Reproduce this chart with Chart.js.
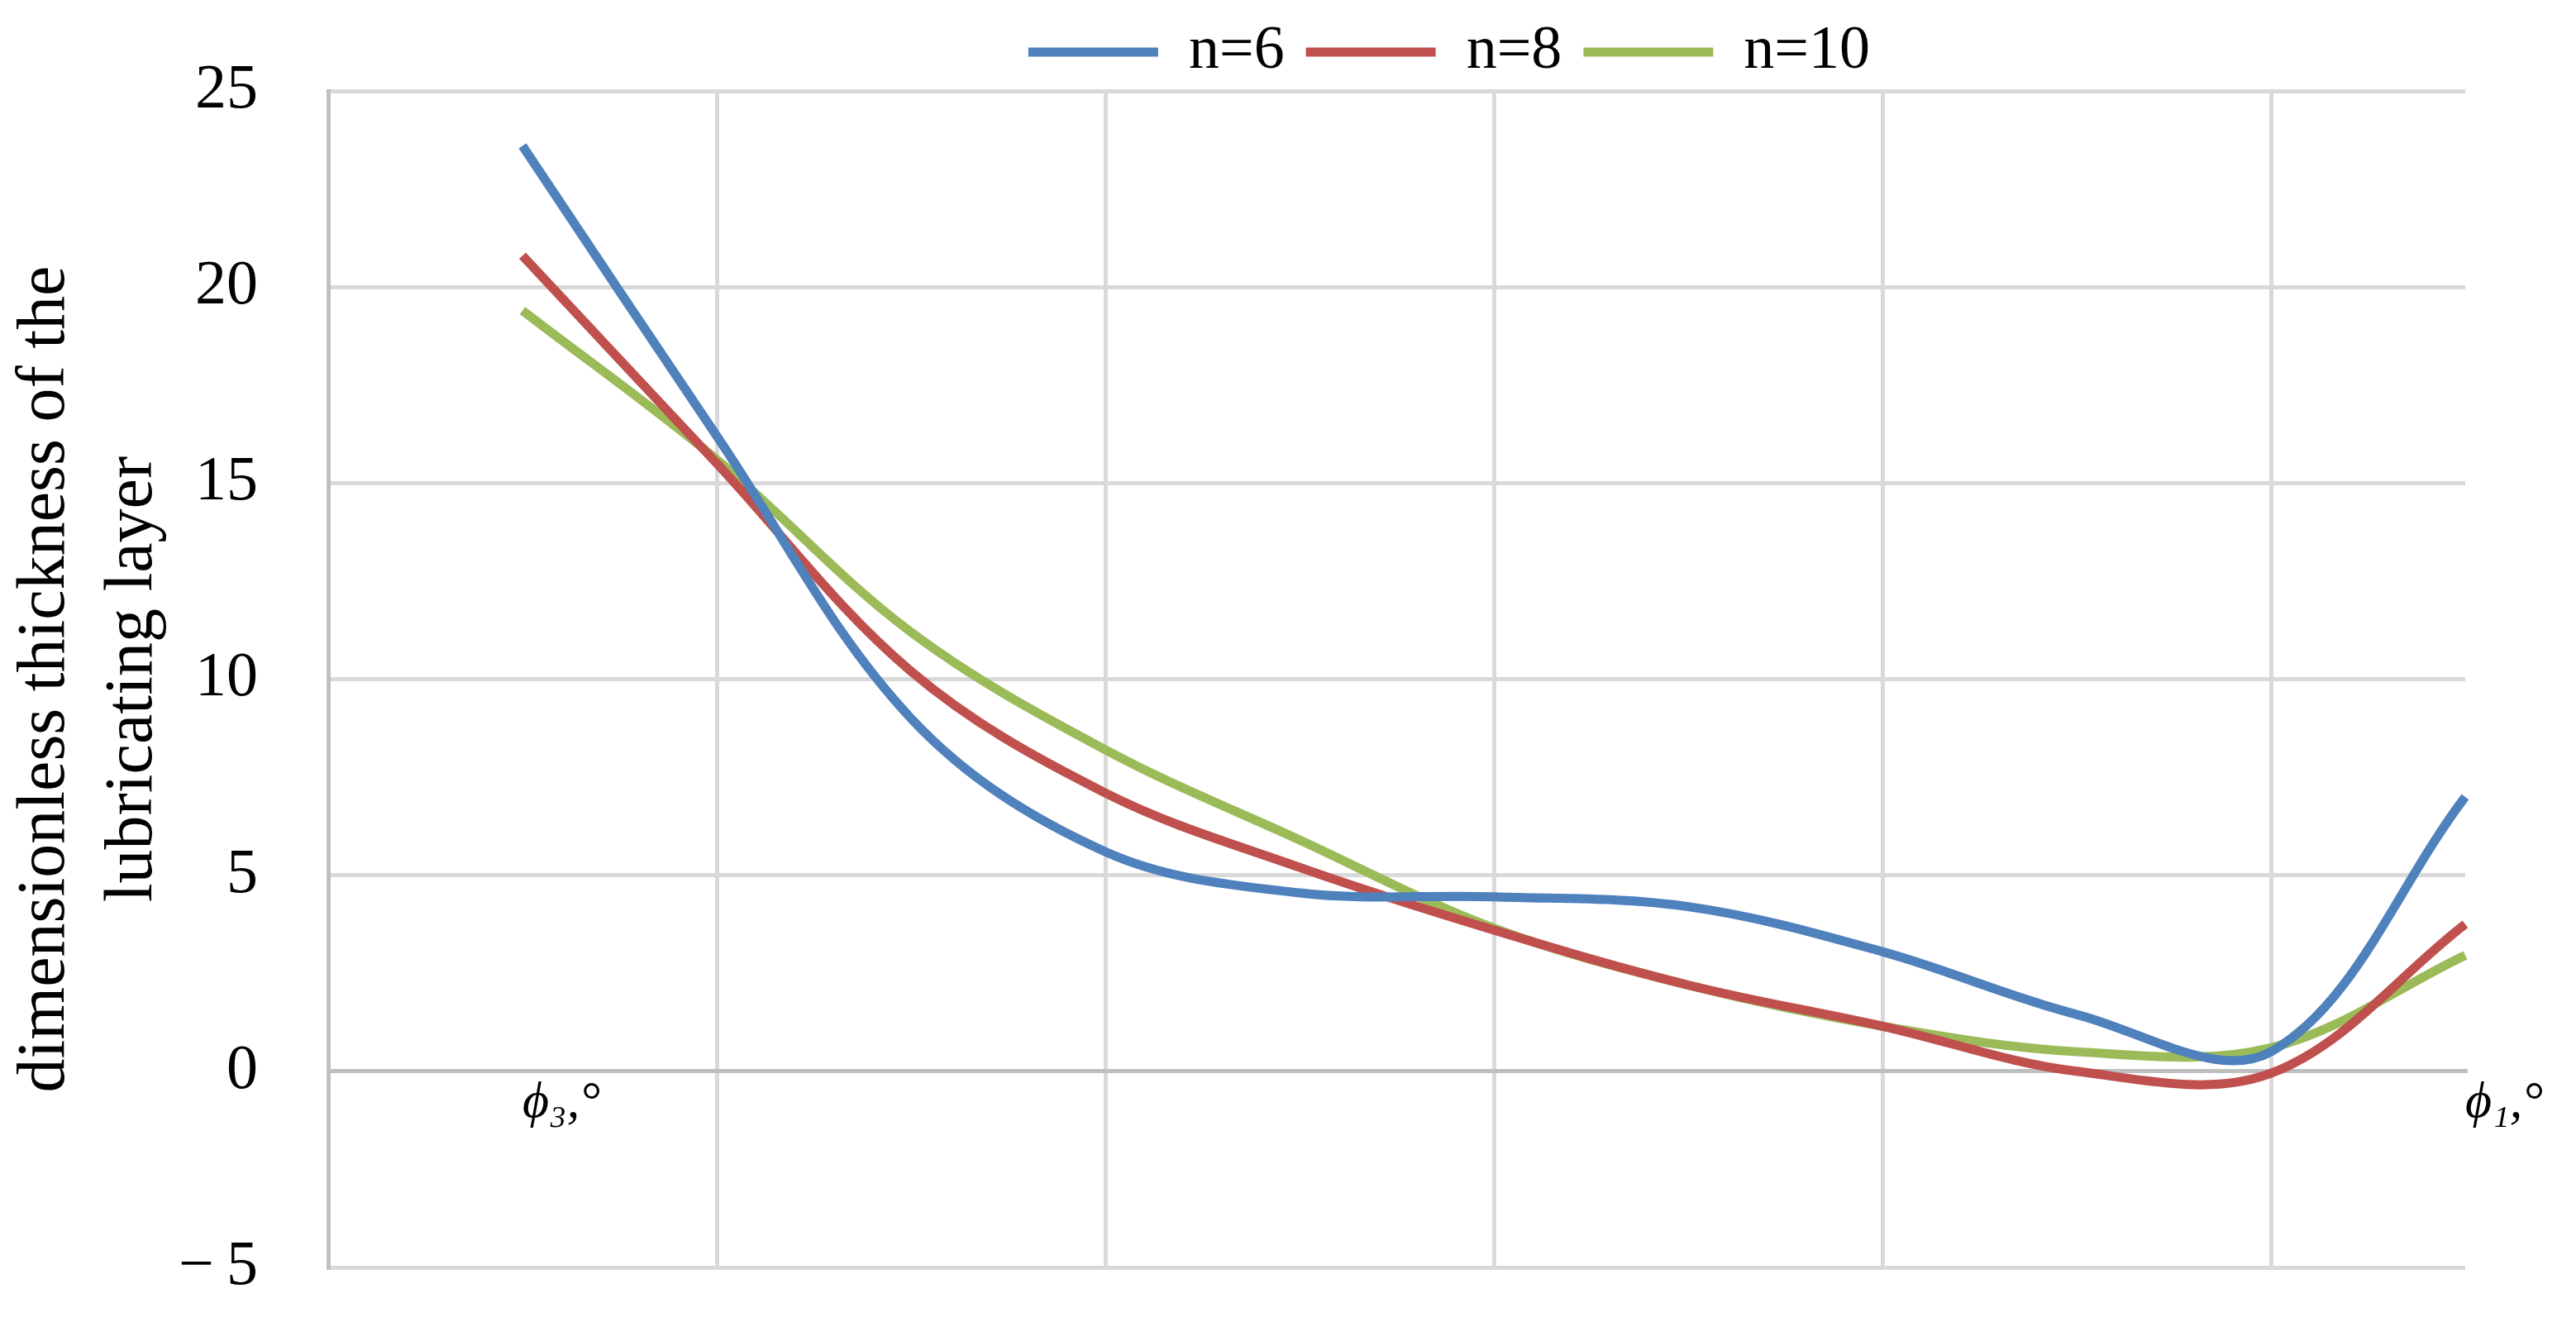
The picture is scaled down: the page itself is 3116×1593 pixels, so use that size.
<!DOCTYPE html>
<html lang="en">
<head>
    <meta charset="UTF-8">
    <title>Dimensionless thickness of the lubricating layer</title>
    <script src="https://cdn.jsdelivr.net/npm/chart.js"></script>
    <style>
        html, body {
            margin: 0;
            padding: 0;
            background: #ffffff;
        }

        .chart-container {
            width: 3116px;
            height: 1593px;
        }
    </style>
</head>
<body>
    <div class="chart-container">
        <canvas id="thicknessChart"></canvas>
    </div>
    <script>
        // category positions; only the two end angles carry a label
        var angleLabels = ['', 'ϕ₃,°', '', '', '', '', '', '', '', '', '', 'ϕ₁,°'];

        // values, first slot is empty
        var thicknessN6 = [null, 23.6, 16.2, 9.0, 5.6, 4.55, 4.45, 4.2, 3.05, 1.45, 0.5, 7.0];
        var thicknessN8 = [null, 20.8, 15.5, 10.2, 7.1, 5.2, 3.6, 2.2, 1.15, 0.0, -0.05, 3.75];
        var thicknessN10 = [null, 19.4, 15.6, 11.2, 8.2, 5.9, 3.65, 2.2, 1.15, 0.5, 0.6, 2.96];

        var seriesNames = ['n=6', 'n=8', 'n=10'];
        var seriesColors = ['#4f81bd', '#c0504d', '#9bbb59'];

        var yTicks = { min: -5, max: 25, step: 5 };
        var yTitle = ['dimensionless thickness of the', 'lubricating layer'];

        var serif = '"Liberation Serif", "Times New Roman", serif';

        // legend sits a bit right of centre in the original
        var legendShift = {
            id: 'legendShift',
            afterLayout: function(chart) {
                chart.legend.left += 262;
                chart.legend.right += 262;
            }
        };

        window.onload = function() {
            var seriesData = [thicknessN6, thicknessN8, thicknessN10];

            var datasets = seriesNames.map(function(name, i) {
                return {
                    label: name,
                    data: seriesData[i],
                    borderColor: seriesColors[i],
                    backgroundColor: seriesColors[i],
                    borderWidth: 11,
                    pointRadius: 0,
                    fill: false,
                    tension: 0.35
                };
            });

            var ctx = document.getElementById('thicknessChart').getContext('2d');
            new Chart(ctx, {
                type: 'line',
                data: {
                    labels: angleLabels,
                    datasets: datasets
                },
                plugins: [legendShift],
                options: {
                    responsive: true,
                    maintainAspectRatio: false,
                    devicePixelRatio: 1,
                    animation: false,
                    layout: {
                        padding: { top: 0, left: 0, right: 134, bottom: 60 }
                    },
                    plugins: {
                        tooltip: { enabled: false },
                        legend: {
                            position: 'top',
                            labels: {
                                color: '#000000',
                                font: { family: serif, size: 74 },
                                boxWidth: 157,
                                boxHeight: 11,
                                padding: 26,
                                generateLabels: function(chart) {
                                    var items = Chart.defaults.plugins.legend.labels.generateLabels(chart);
                                    items.forEach(function(item) {
                                        item.fillStyle = item.strokeStyle;
                                        item.lineWidth = 0;
                                    });
                                    return items;
                                }
                            }
                        }
                    },
                    scales: {
                        x: {
                            position: { y: 0 },
                            offset: false,
                            grid: {
                                color: function(c) {
                                    return (c.index > 0 && c.index % 2 === 0) ? '#d9d9d9' : 'rgba(0,0,0,0)';
                                },
                                lineWidth: 5,
                                drawTicks: false
                            },
                            border: { color: '#bfbfbf', width: 5 },
                            ticks: {
                                autoSkip: false,
                                maxRotation: 0,
                                align: 'start',
                                padding: 2,
                                color: '#000000',
                                font: { family: serif, size: 62, style: 'italic' }
                            },
                            afterFit: function(scale) {
                                scale.paddingLeft = 0;
                                scale.paddingRight = 0;
                            }
                        },
                        y: {
                            min: yTicks.min,
                            max: yTicks.max,
                            grid: {
                                color: '#d9d9d9',
                                lineWidth: 5,
                                drawTicks: false
                            },
                            border: { color: '#bfbfbf', width: 5 },
                            ticks: {
                                stepSize: yTicks.step,
                                padding: 85,
                                color: '#000000',
                                font: { family: serif, size: 76 },
                                callback: function(v) {
                                    return v < 0 ? '\u2212\u2009' + Math.abs(v) : String(v);
                                }
                            },
                            title: {
                                display: true,
                                text: yTitle,
                                color: '#000000',
                                font: { family: serif, size: 82, lineHeight: 1.3 },
                                padding: { top: 2, bottom: 0 }
                            },
                            afterFit: function(scale) {
                                scale.width = 397;
                                scale.paddingTop = 0;
                                scale.paddingBottom = 0;
                            }
                        }
                    }
                }
            });
        };
    </script>
</body>
</html>
